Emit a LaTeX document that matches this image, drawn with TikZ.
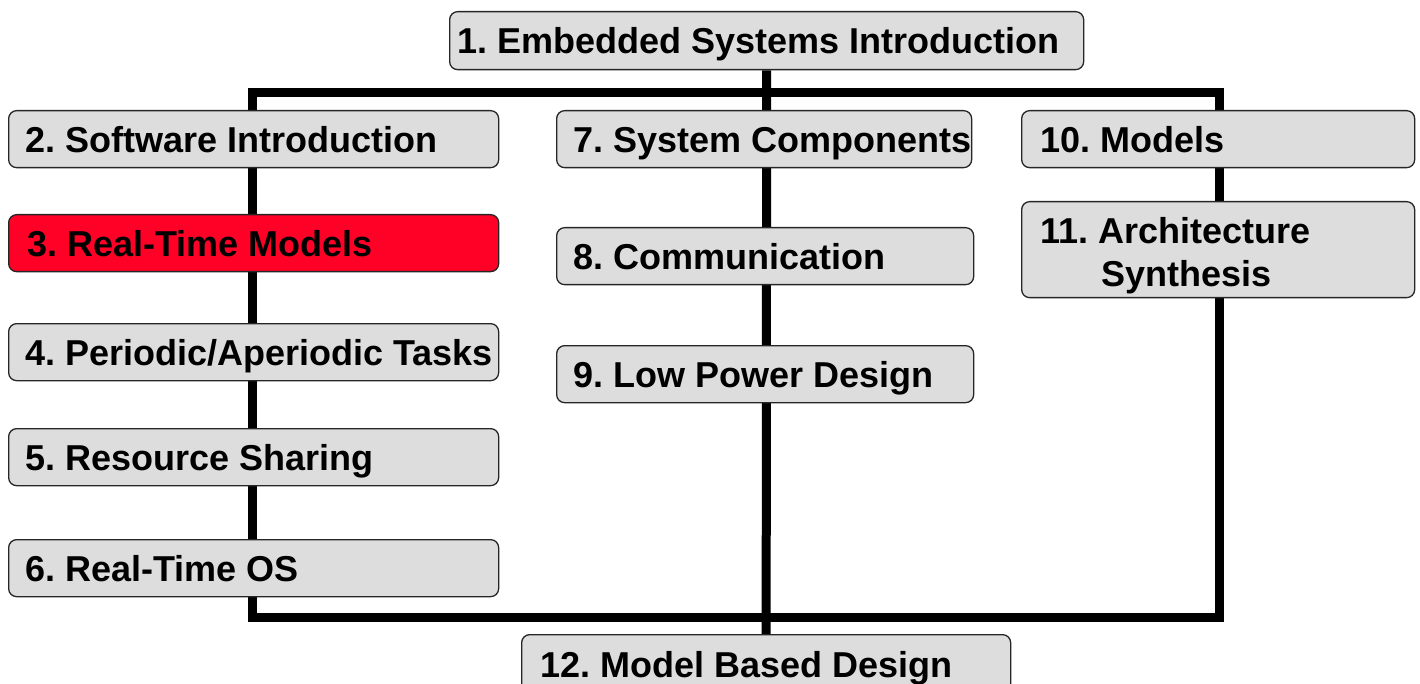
\documentclass[tikz,border=0pt]{standalone}
\usepackage{fontspec}
\setmainfont{Liberation Sans}
\usetikzlibrary{backgrounds,calc}
\definecolor{boxgray}{RGB}{221,221,221}
\definecolor{hotred}{RGB}{255,0,38}
\tikzset{
  topic/.style={draw=black!85, line width=1.3pt, rounded corners=8pt, fill=boxgray, inner sep=0pt, anchor=north west},
  txt/.style={inner sep=0pt, anchor=base west, font=\fontsize{36}{42}\selectfont\bfseries\frenchspacing},
  bar/.style={line width=9pt, draw=black}
}
\begin{document}
\begin{tikzpicture}[x=1pt,y=-1pt]
\useasboundingbox (0,0) rectangle (1420,684);
\clip (0,0) rectangle (1420,684);
% boxes
\node[topic, minimum width=634pt, minimum height=58pt] (b1) at (449,11) {};
\node[topic, minimum width=490pt, minimum height=57pt] (b2) at (8,110) {};
\node[topic, minimum width=490pt, minimum height=57pt, fill=hotred] (b3) at (8,214) {};
\node[topic, minimum width=490pt, minimum height=57pt] (b4) at (8,323) {};
\node[topic, minimum width=490pt, minimum height=57pt] (b5) at (8,428) {};
\node[topic, minimum width=490pt, minimum height=57pt] (b6) at (8,539) {};
\node[topic, minimum width=415pt, minimum height=57pt] (b7) at (556,110) {};
\node[topic, minimum width=417pt, minimum height=57pt] (b8) at (556,227) {};
\node[topic, minimum width=417pt, minimum height=57pt] (b9) at (556,345) {};
\node[topic, minimum width=393pt, minimum height=57pt] (b10) at (1021,110) {};
\node[topic, minimum width=393pt, minimum height=96pt] (b11) at (1021,201) {};
\node[topic, minimum width=489pt, minimum height=57pt] (b12) at (521,634) {};
% labels
\node[txt] (t1) at ($(b1.west)+(8,13)$) {1. Embedded Systems Introduction};
\node[txt] (t2) at ($(b2.west)+(17,13)$) {2. Software Introduction};
\node[txt] (t3) at ($(b3.west)+(19,13)$) {3. Real-Time Models};
\node[txt] (t4) at ($(b4.west)+(17,13)$) {4. Periodic/Aperiodic Tasks};
\node[txt] (t5) at ($(b5.west)+(17,13)$) {5. Resource Sharing};
\node[txt] (t6) at ($(b6.west)+(17,13)$) {6. Real-Time OS};
\node[txt] (t7) at ($(b7.west)+(17,13)$) {7. System Components};
\node[txt] (t8) at ($(b8.west)+(17,13)$) {8. Communication};
\node[txt] (t9) at ($(b9.west)+(17,13)$) {9. Low Power Design};
\node[txt] (t10) at ($(b10.west)+(19,13)$) {10. Models};
\node[txt] (t11a) at ($(b11.west)+(19,-6)$) {11. Architecture};
\node[txt] (t11b) at ($(b11.west)+(80,37)$) {Synthesis};
\node[txt] (t12) at ($(b12.west)+(19,14)$) {12. Model Based Design};
% connectors
\begin{scope}[on background layer]
\coordinate (tl) at (252,93);
\coordinate (br) at (1219,617);
\draw[bar] (tl) rectangle (br);
\draw[bar] (b1.south) -- (b12.north);
\end{scope}
\end{tikzpicture}
\end{document}
